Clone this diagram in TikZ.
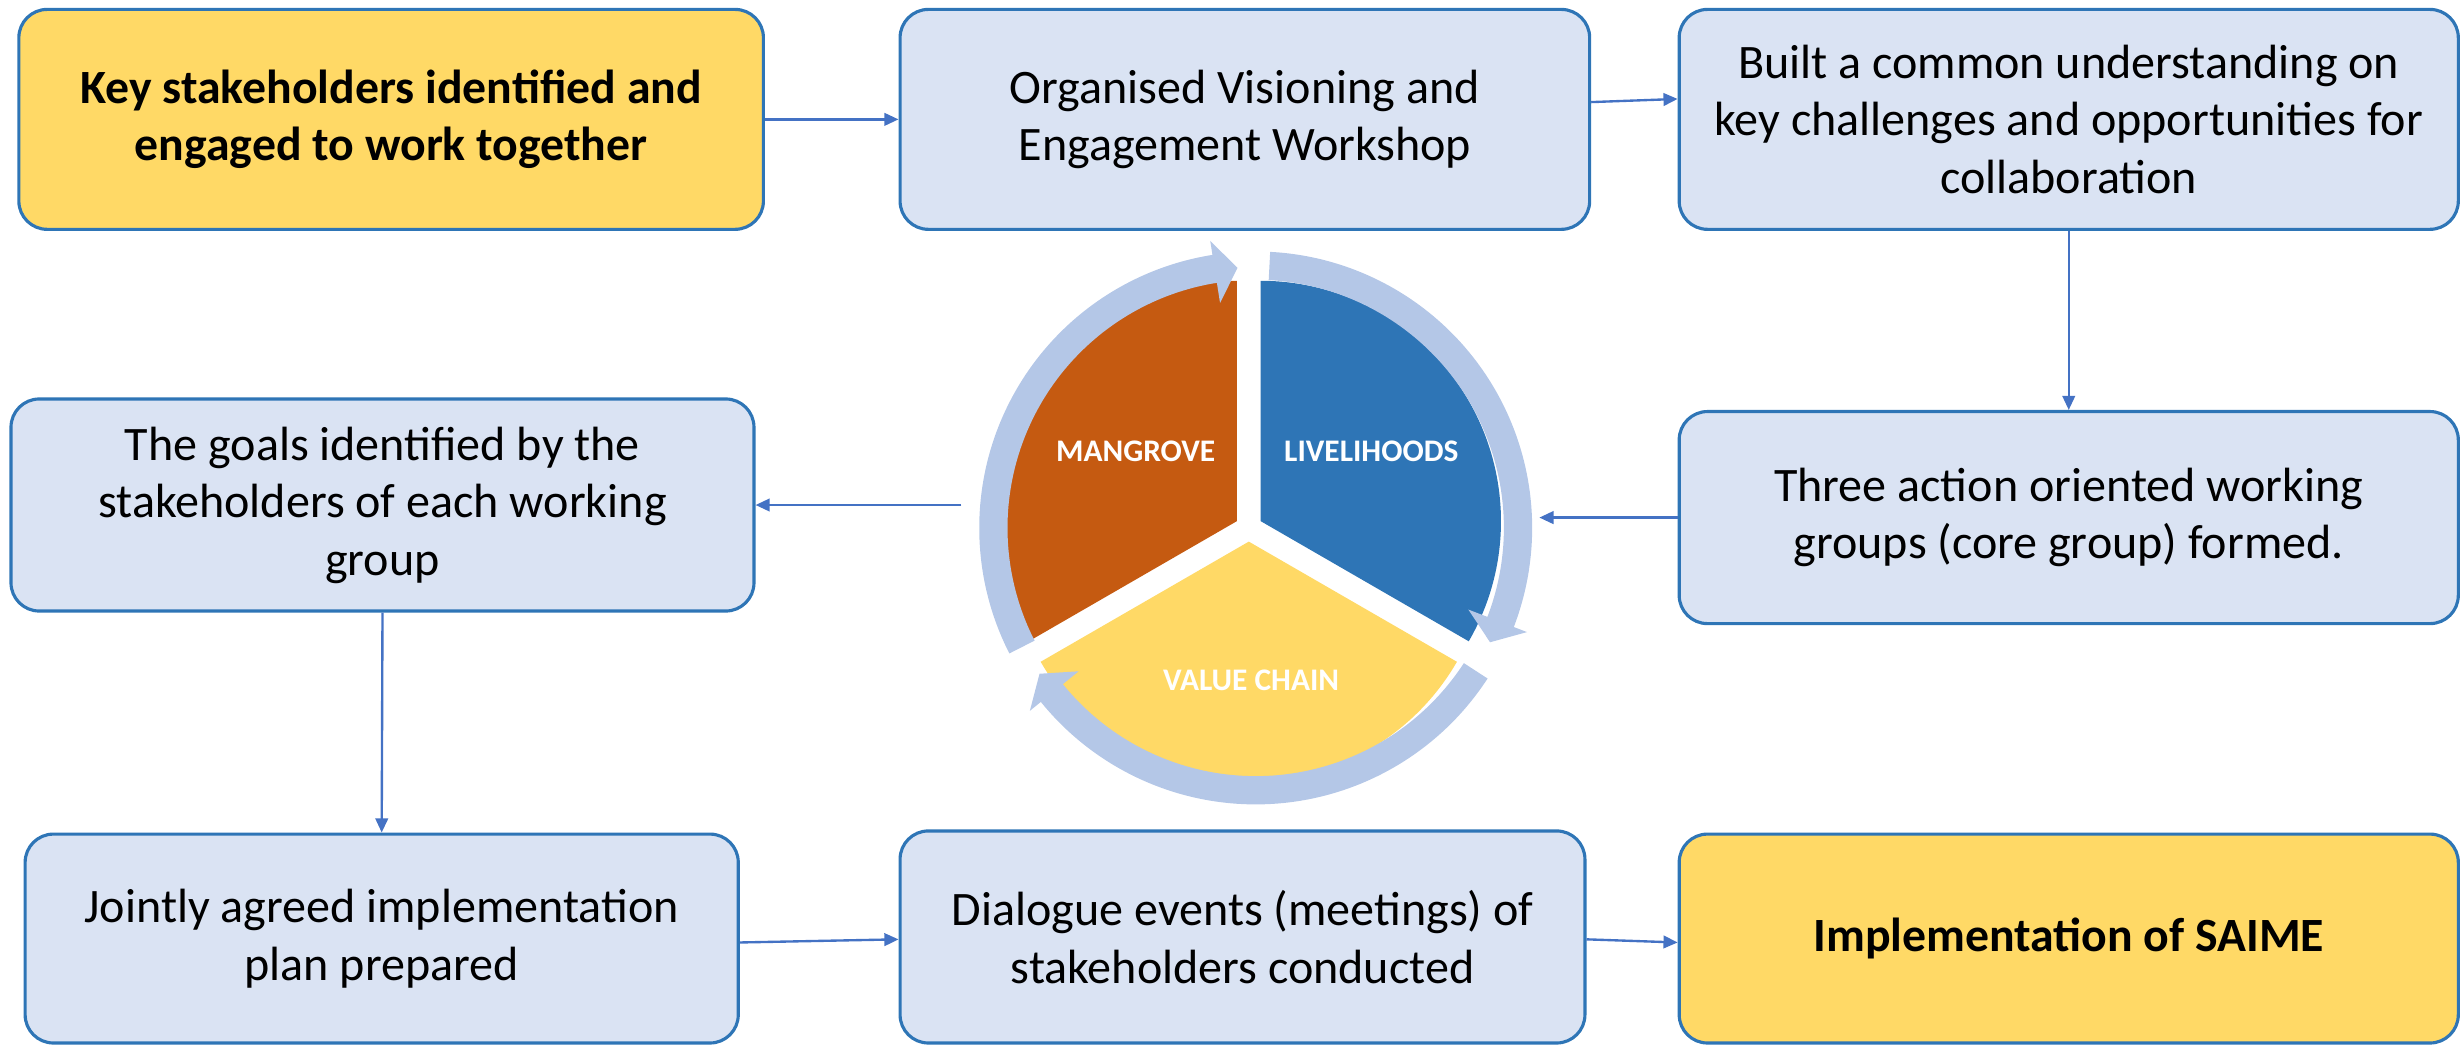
\documentclass[tikz,border=0pt]{standalone}
\usepackage{fontspec}
\setmainfont{Carlito}
\usetikzlibrary{arrows.meta}
\definecolor{boxfill}{HTML}{DAE3F3}
\definecolor{boxline}{HTML}{2E75B6}
\definecolor{yfill}{HTML}{FFD966}
\definecolor{arrowc}{HTML}{4472C4}
\definecolor{ringc}{HTML}{B4C7E7}
\definecolor{mang}{HTML}{C55A11}
\definecolor{live}{HTML}{2E75B6}
\definecolor{vchain}{HTML}{FFD966}
\begin{document}
\begin{tikzpicture}[x=1pt,y=-1pt,
  box/.style={draw=boxline, line width=2pt, fill=boxfill, rounded corners=18pt,
    align=center, inner sep=0pt, font=\fontsize{30.6}{36.6}\selectfont},
  yellowbox/.style={box, fill=yfill, font=\fontsize{30.4}{36.4}\selectfont\bfseries},
  conn/.style={draw=arrowc, line width=1.5pt, -{Triangle[length=9pt,width=8pt]}},
  seglabel/.style={text=white, inner sep=0pt, font=\fontsize{20}{24}\selectfont\bfseries}
]
\useasboundingbox (0,0) rectangle (1568,668);

% boxes
\node[yellowbox, minimum width=474pt, minimum height=140pt] (B1) at (249,76)
  {Key stakeholders identified and\\engaged to work together};
\node[box, minimum width=439pt, minimum height=140pt] (B2) at (792.5,76)
  {Organised Visioning and\\Engagement Workshop};
\node[box, minimum width=496pt, minimum height=140pt] (B3) at (1317,76)
  {Built a common understanding on\\key challenges and opportunities for\\collaboration};
\node[box, minimum width=496pt, minimum height=135pt] (B4) at (1317,329.5)
  {Three action oriented working\\groups (core group) formed.};
\node[box, minimum width=473pt, minimum height=135pt] (B5) at (243.5,321.5)
  {The goals identified by the\\stakeholders of each working\\group};
\node[box, minimum width=454pt, minimum height=133pt] (B6) at (243,597.5)
  {Jointly agreed implementation\\plan prepared};
\node[box, minimum width=436pt, minimum height=135pt] (B7) at (791,596.5)
  {Dialogue events (meetings) of\\stakeholders conducted};
\node[yellowbox, minimum width=496pt, minimum height=133pt] (B8) at (1317,597.5)
  {Implementation of SAIME};

% central cycle
\begin{scope}[shift={(799.4,336.1)}, yscale=-1]
  \fill[mang] (-11.93,4.35) -- ++(90:153) arc[start angle=90, end angle=210, radius=153] -- cycle;
  \fill[live] (3.13,4.35) -- ++(-30:153) arc[start angle=-30, end angle=90, radius=153] -- cycle;
  \fill[vchain] (-4.4,-8.7) -- ++(210:153) arc[start angle=210, end angle=330, radius=153] -- cycle;
  \foreach \t in {87,207,327}{
    \fill[ringc] (\t:176) arc[start angle=\t, end angle={\t-108}, radius=176]
      -- ({\t-108}:185) -- ({\t-113}:166) -- ({\t-108}:145) -- ({\t-108}:158)
      arc[start angle={\t-108}, end angle=\t, radius=158] -- cycle;
  }
\end{scope}
\node[seglabel] (lm) at (723,287) {MANGROVE};
\node[seglabel] (ll) at (873,287) {LIVELIHOODS};
\node[seglabel] (lv) at (796.5,433) {VALUE CHAIN};

\coordinate (cR) at (980,329.5);
\coordinate (cL) at (612,321.5);

% connectors
\draw[conn] (B1.east) -- (B2.west);
\draw[conn] ([yshift=11pt]B2.east) -- ([yshift=13pt]B3.west);
\draw[conn] (B3.south) -- (B4.north);
\draw[conn] (B4.west) -- (cR);
\draw[conn] (cL) -- (B5.east);
\draw[conn] (B5.south) -- (B6.north);
\draw[conn] ([yshift=-2.5pt]B6.east) -- ([yshift=-1.5pt]B7.west);
\draw[conn] ([yshift=-1.5pt]B7.east) -- ([yshift=-2.5pt]B8.west);
\end{tikzpicture}
\end{document}
